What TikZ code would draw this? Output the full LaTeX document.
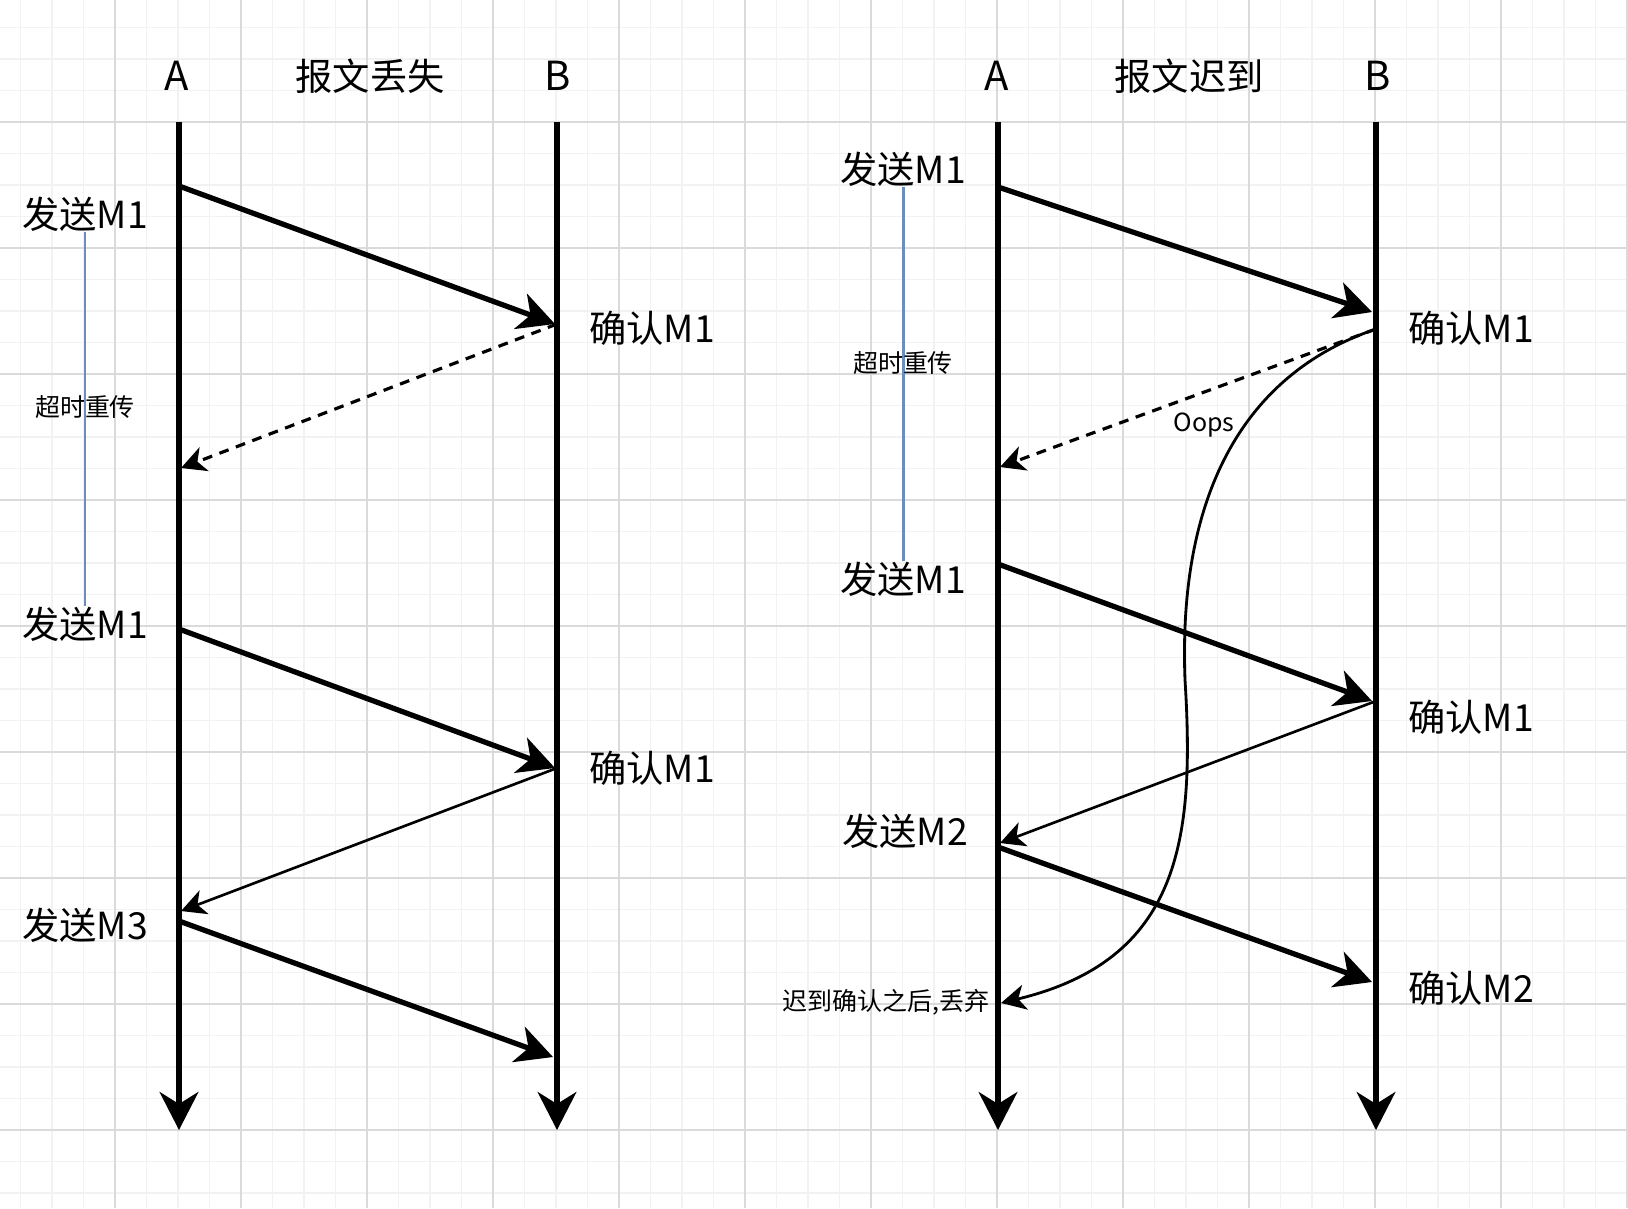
\documentclass[tikz,border=0pt]{standalone}
\usepackage{fontspec}
\setmainfont{Noto Sans CJK SC}
\usepackage{tikz}
\usetikzlibrary{arrows.meta,calc}
\definecolor{gridmajor}{HTML}{DADADA}
\definecolor{gridminor}{HTML}{F2F2F2}
\definecolor{timerblue}{HTML}{6C8EBF}

\begin{document}
\begin{tikzpicture}[x=0.01cm,y=-0.01cm,
    lifeline/.style={line width=1.5pt,-{Stealth[length=10.8pt,width=11pt,inset=3.4pt]}},
    msg/.style={line width=1.5pt,-{Stealth[length=10.4pt,width=10.6pt,inset=3pt]}},
    ack/.style={line width=0.75pt,-{Stealth[length=7pt,width=7.2pt,inset=2pt]}},
    lostack/.style={ack,line width=0.9pt,dash pattern=on 2.8pt off 2.2pt},
    timer/.style={draw=timerblue,line width=0.85pt},
    bigtxt/.style={inner sep=0pt,font=\fontsize{10.6pt}{12pt}\selectfont},
    headtxt/.style={inner sep=0pt,font=\fontsize{11.4pt}{13pt}\selectfont},
    smalltxt/.style={inner sep=0pt,font=\fontsize{7.1pt}{8.5pt}\selectfont}]
      \useasboundingbox (0,0) rectangle (1628,1208);
      \fill[white] (0,0) rectangle (1628,1208);
      \foreach \i in {-3,...,48} {
        \draw[gridminor,line width=0.45pt] ({115+31.5*\i},0) -- ({115+31.5*\i},1208);
      }
      \foreach \j in {-3,...,34} {
        \draw[gridminor,line width=0.45pt] (0,{122+31.5*\j}) -- (1628,{122+31.5*\j});
      }
      \foreach \i in {0,...,12} {
        \draw[gridmajor,line width=0.45pt] ({115+126*\i},0) -- ({115+126*\i},1208);
      }
      \foreach \j in {0,...,8} {
        \draw[gridmajor,line width=0.45pt] (0,{122+126*\j}) -- (1628,{122+126*\j});
      }

      \foreach \x/\n in {179/la,557/lb,998/ra,1376/rb} {
        \coordinate (\n-top) at (\x,122);
        \coordinate (\n-bot) at (\x,1130);
        \draw[lifeline] (\n-top) -- (\n-bot);
      }

      \node[headtxt] (ltitleA) at (177,76) {A};
      \node[bigtxt] (ltitle) at (370,76) {报文丢失};
      \node[headtxt] (ltitleB) at (558,76) {B};
      \node[headtxt] (rtitleA) at (997,76) {A};
      \node[bigtxt] (rtitle) at (1189,76) {报文迟到};
      \node[headtxt] (rtitleB) at (1378,76) {B};

      \node[bigtxt] (lsend1) at (85,214) {发送M1};
      \node[bigtxt] (lsend2) at (85,624) {发送M1};
      \node[bigtxt] (lsend3) at (85,925) {发送M3};
      \node[bigtxt] (lconf1) at (652,328) {确认M1};
      \node[bigtxt] (lconf2) at (652,768) {确认M1};
      \draw[timer] (lsend1.south) -- (lsend2.north);
      \node[smalltxt] (ltimer) at (85,407) {超时重传};

      \coordinate (la1) at (179,186);
      \coordinate (lb1) at (555,324);
      \coordinate (lb1r) at (557,324);
      \coordinate (la1r) at (181,468);
      \coordinate (la2) at (179,629);
      \coordinate (lb2) at (555,768);
      \coordinate (lb2r) at (557,768);
      \coordinate (la2r) at (181,911);
      \coordinate (la3) at (179,921);
      \coordinate (lb3) at (553,1057);
      \draw[msg] (la1) -- (lb1);
      \draw[lostack] (lb1r) -- (la1r);
      \draw[msg] (la2) -- (lb2);
      \draw[ack] (lb2r) -- (la2r);
      \draw[msg] (la3) -- (lb3);

      \node[bigtxt] (rsend1) at (903,169) {发送M1};
      \node[bigtxt] (rsend2) at (903,579) {发送M1};
      \node[bigtxt] (rsend3) at (905,831) {发送M2};
      \node[bigtxt] (rconf1) at (1471,328) {确认M1};
      \node[bigtxt] (rconf2) at (1471,717) {确认M1};
      \node[bigtxt] (rconf3) at (1471,988) {确认M2};
      \draw[timer] (rsend1.south) -- (rsend2.north);
      \node[smalltxt] (rtimer) at (903,363) {超时重传};
      \node[smalltxt] (oops) at (1204,425) {Oops};
      \node[smalltxt] (drop) at (886,1002) {迟到确认之后,丢弃};

      \coordinate (ra1) at (998,187);
      \coordinate (rb1) at (1372,312);
      \coordinate (rb1r) at (1376,329);
      \coordinate (ra1r) at (1000,467);
      \coordinate (ra2) at (998,564);
      \coordinate (rb2) at (1372,701);
      \coordinate (rb2r) at (1376,701);
      \coordinate (ra2r) at (1000,843);
      \coordinate (ra3) at (998,847);
      \coordinate (rb3) at (1372,982);
      \coordinate (ralate) at (1001,1003);
      \draw[msg] (ra1) -- (rb1);
      \draw[lostack] (rb1r) -- (ra1r);
      \draw[msg] (ra2) -- (rb2);
      \draw[ack] (rb2r) -- (ra2r);
      \draw[msg] (ra3) -- (rb3);
      \draw[ack,line width=0.8pt] (rb1r) .. controls (1240,375) and (1178,500) .. (1185,680)
        .. controls (1195,840) and (1180,960) .. (ralate);
    \end{tikzpicture}
\end{document}
